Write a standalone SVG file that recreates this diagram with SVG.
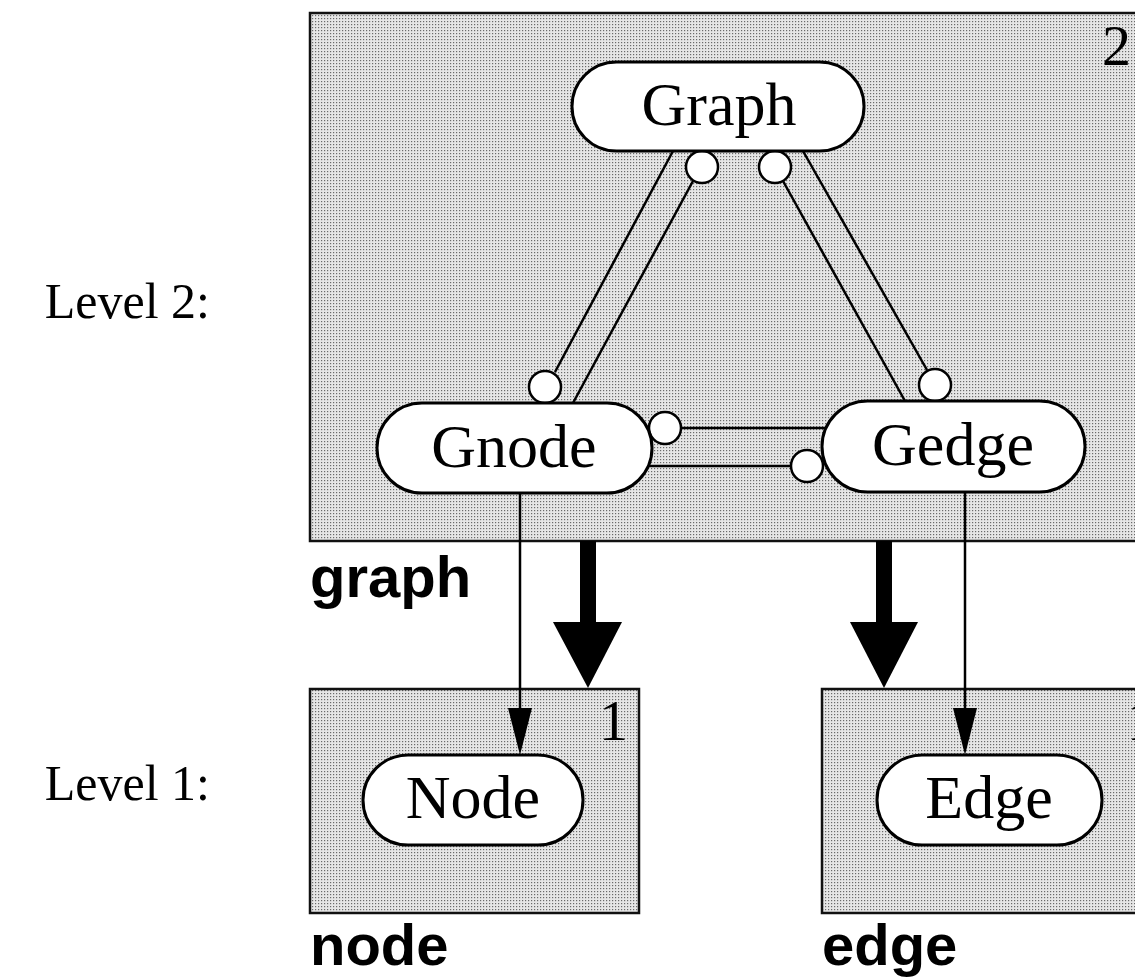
<svg xmlns="http://www.w3.org/2000/svg" width="1135" height="978" viewBox="0 0 1135 978">
<style>
.box{fill:url(#stip);stroke:#111;stroke-width:2.5}
.pill{fill:#fff;stroke:#000;stroke-width:3}
.pt{font-family:"Liberation Serif",serif;font-size:62px;text-anchor:middle;fill:#000}
.lvl{font-family:"Liberation Serif",serif;font-size:50px;text-anchor:end;fill:#000}
.num{font-family:"Liberation Serif",serif;font-size:58px;fill:#000}
.lab{font-family:"Liberation Sans",sans-serif;font-weight:bold;font-size:58px;fill:#000}
.ln{stroke:#000;stroke-width:2.5;fill:none}
.cir{fill:#fff;stroke:#000;stroke-width:2.5}
</style>
<defs>
<pattern id="stip" width="3" height="3" patternUnits="userSpaceOnUse">
<rect width="3" height="3" fill="#e6e6e6"/>
<rect width="1.2" height="1.2" fill="#6a6a6a"/>
</pattern>
</defs>
<rect width="1135" height="978" fill="#fff"/>
<text class="lvl" x="210" y="318">Level 2:</text>
<text class="lvl" x="210" y="800">Level 1:</text>
<g id="graph-box">
<rect class="box" x="310" y="13" width="840" height="528"/>
<text class="num" x="1131" y="65" text-anchor="end">2</text>
<text class="lab" x="310" y="597">graph</text>
</g>
<g id="node-box">
<rect class="box" x="310" y="689" width="329" height="224"/>
<text class="num" x="628" y="740" text-anchor="end">1</text>
<text class="lab" x="310" y="965">node</text>
</g>
<g id="edge-box">
<rect class="box" x="822" y="689" width="330" height="224"/>
<text class="num" x="1127" y="740">1</text>
<text class="lab" x="822" y="965">edge</text>
</g>
<g id="connectors">
<line class="ln" x1="673" y1="151" x2="555" y2="372"/>
<line class="ln" x1="693" y1="181" x2="573" y2="403"/>
<line class="ln" x1="783" y1="181" x2="905" y2="401"/>
<line class="ln" x1="803" y1="151" x2="927" y2="370"/>
<line class="ln" x1="681" y1="428" x2="826" y2="428"/>
<line class="ln" x1="649" y1="466" x2="791" y2="466"/>
<circle class="cir" cx="702" cy="167" r="16"/>
<circle class="cir" cx="775" cy="167" r="16"/>
<circle class="cir" cx="545" cy="387" r="16"/>
<circle class="cir" cx="935" cy="385" r="16"/>
<circle class="cir" cx="665" cy="428" r="16"/>
<circle class="cir" cx="807" cy="466" r="16"/>
<line class="ln" x1="520" y1="494" x2="520" y2="712" stroke-width="2"/>
<polygon points="520,755 508,708 532,708" fill="#000"/>
<line class="ln" x1="965" y1="492" x2="965" y2="712" stroke-width="2"/>
<polygon points="965,755 953,708 977,708" fill="#000"/>
<rect x="580" y="541" width="16" height="82" fill="#000"/>
<polygon points="553,622 622,622 588,688" fill="#000"/>
<rect x="876" y="541" width="16" height="82" fill="#000"/>
<polygon points="850,622 918,622 884,688" fill="#000"/>
</g>
<g id="Graph">
<rect class="pill" x="572" y="62" width="292" height="89" rx="44.5"/>
<text class="pt" x="719" y="125">Graph</text>
</g>
<g id="Gnode">
<rect class="pill" x="377" y="403" width="275" height="90" rx="45"/>
<text class="pt" x="514" y="467">Gnode</text>
</g>
<g id="Gedge">
<rect class="pill" x="822" y="401" width="263" height="91" rx="45.5"/>
<text class="pt" x="953" y="465">Gedge</text>
</g>
<g id="Node">
<rect class="pill" x="363" y="755" width="220" height="90" rx="45"/>
<text class="pt" x="473" y="818">Node</text>
</g>
<g id="Edge">
<rect class="pill" x="877" y="755" width="225" height="90" rx="45"/>
<text class="pt" x="989" y="818">Edge</text>
</g>
</svg>
